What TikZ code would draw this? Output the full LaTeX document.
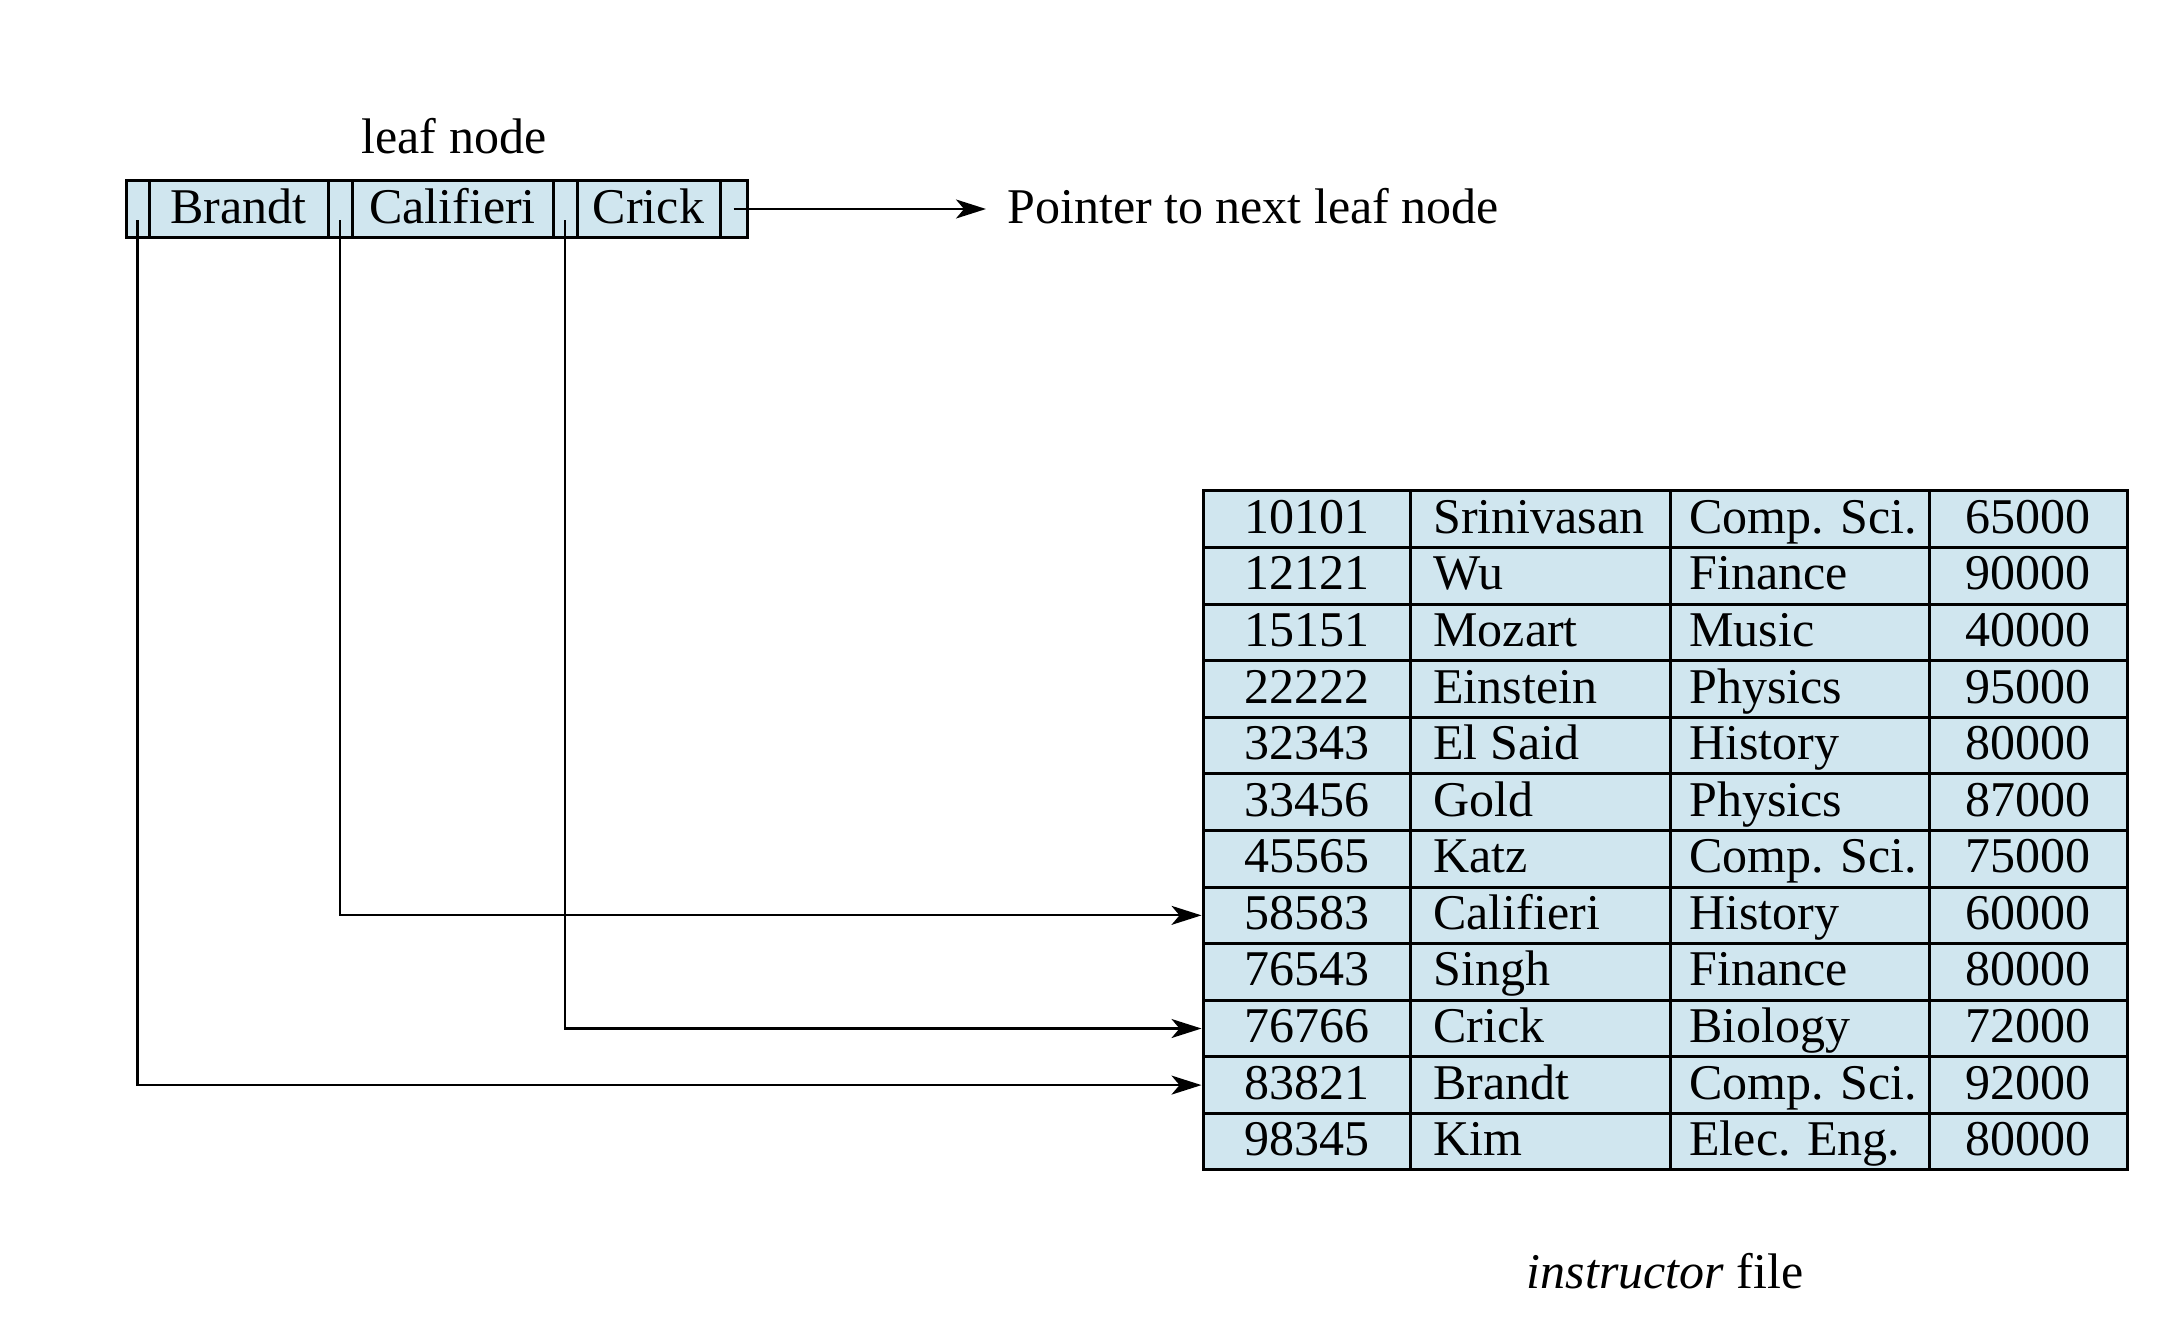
\documentclass[tikz,border=0pt]{standalone}
\usepackage{fontspec}
\setmainfont{Liberation Serif}
\usetikzlibrary{arrows.meta}
\definecolor{cellblue}{RGB}{208,230,239}
\begin{document}
\begin{tikzpicture}[x=0.5pt,y=-0.5pt,
  font=\fontsize{25}{29}\selectfont,
  cell/.style={draw, line width=1.5pt, fill=cellblue, minimum height=28.3pt,
    inner sep=0pt, text height=17pt, text depth=3pt},
  lcell/.style={draw, line width=1.5pt, fill=cellblue, minimum height=28pt,
    inner sep=0pt, text height=17pt, text depth=3pt},
  txt/.style={inner sep=0pt, text height=17pt, text depth=3pt},
  arr/.style={line width=1.1pt, -{Stealth[length=15pt,width=9.5pt,inset=4pt]}}]
\useasboundingbox (0,0) rectangle (2164,1322);
% leaf node
\node (lbl) at (454,136) {leaf node};
\node[lcell, minimum width=11.5pt] (p0) at (137.5,209) {};
\node[lcell, minimum width=89.5pt] (k1) at (238.5,209) {Brandt};
\node[lcell, minimum width=12pt] (p1) at (340,209) {};
\node[lcell, minimum width=100.5pt] (k2) at (452.5,209) {Califieri};
\node[lcell, minimum width=12pt] (p2) at (565,209) {};
\node[lcell, minimum width=71.5pt] (k3) at (648.5,209) {Crick};
\node[lcell, minimum width=13.5pt] (p3) at (733.5,209) {};
\node[anchor=west, inner xsep=10.5pt, inner ysep=0pt, text height=17pt, text depth=3pt] (ptxt) at (986,209) {Pointer to next leaf node};
\draw[arr] (p3.center) -- (ptxt.west);
% table
\foreach \id/\nm/\dept/\sal [count=\i from 0] in {
  10101/Srinivasan/Comp. Sci./65000,
  12121/Wu/Finance/90000,
  15151/Mozart/Music/40000,
  22222/Einstein/Physics/95000,
  32343/El Said/History/80000,
  33456/Gold/Physics/87000,
  45565/Katz/Comp. Sci./75000,
  58583/Califieri/History/60000,
  76543/Singh/Finance/80000,
  76766/Crick/Biology/72000,
  83821/Brandt/Comp. Sci./92000,
  98345/Kim/Elec. Eng./80000}{
  \pgfmathsetmacro\yc{491+56.58*(\i+0.5)}
  \node[cell, minimum width=103.5pt] (r\i c1) at (1306.5,\yc) {\id};
  \node[cell, minimum width=130pt] (r\i c2) at (1540,\yc) {};
  \node[cell, minimum width=129.5pt] (r\i c3) at (1799.5,\yc) {};
  \node[cell, minimum width=99pt] (r\i c4) at (2028,\yc) {\sal};
  \node[txt, anchor=west] (t\i c2) at (1433,\yc) {\nm};
  \node[txt, anchor=west] (t\i c3) at (1689,\yc) {\dept};
}
\draw[arr] ([yshift=-5.5pt]p1.center) |- (r7c1.west);
\draw[arr] ([yshift=-5.5pt]p2.center) |- (r9c1.west);
\draw[arr] ([yshift=-5.5pt]p0.center) |- (r10c1.west);
\node (cap) at (1665,1271) {\textit{instructor} file};
\end{tikzpicture}
\end{document}
